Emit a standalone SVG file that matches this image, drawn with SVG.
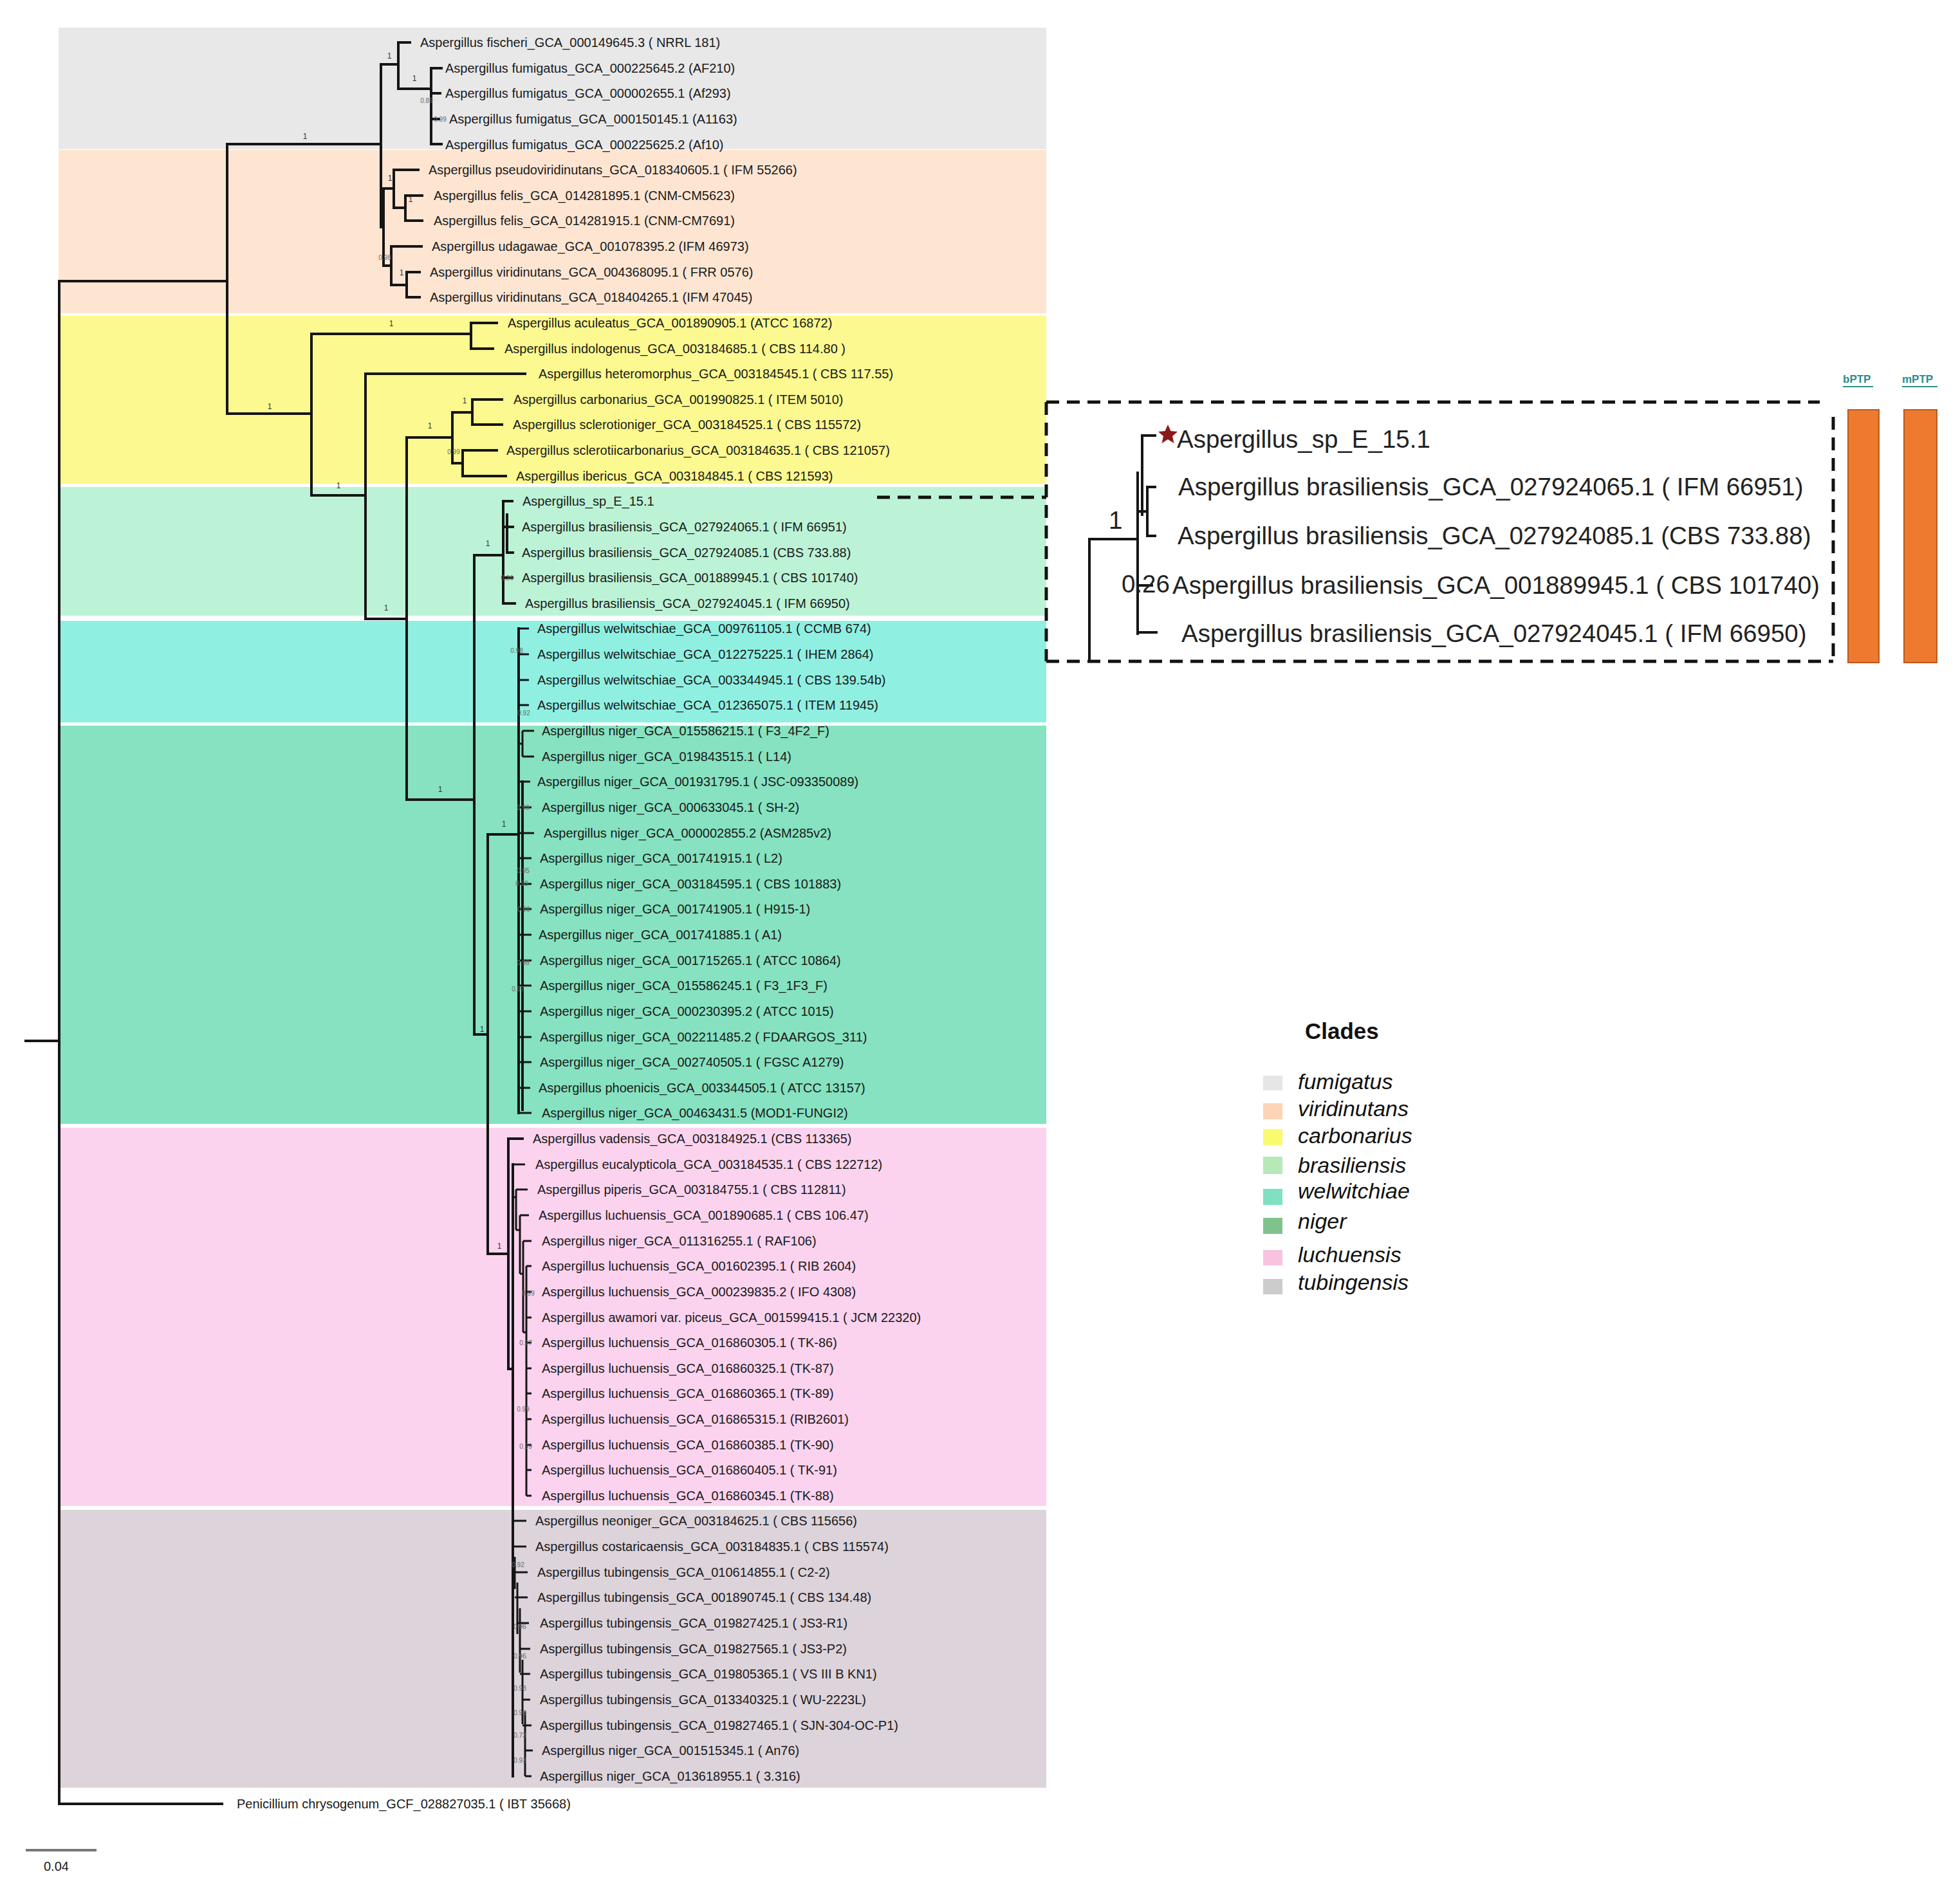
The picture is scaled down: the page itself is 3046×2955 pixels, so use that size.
<svg xmlns="http://www.w3.org/2000/svg" width="3046" height="2955" viewBox="0 0 3046 2955">
<style>
.t{font-family:"Liberation Sans",Arial,sans-serif;font-size:20px;fill:#1a1a1a}
.s{font-family:"Liberation Sans",Arial,sans-serif;font-size:12px;fill:#333;text-anchor:middle}
.ss{font-family:"Liberation Sans",Arial,sans-serif;font-size:10px;fill:#666;text-anchor:middle}
.br{fill:none;stroke:#151515;stroke-width:4;stroke-linecap:square}
.thin{fill:none;stroke:#151515;stroke-width:3}
.dash{fill:none;stroke:#111;stroke-width:5;stroke-dasharray:20 12}
.ins{font-family:"Liberation Sans",Arial,sans-serif;font-size:38.5px;fill:#222}
.lg{font-family:"Liberation Sans",Arial,sans-serif;font-style:italic;font-size:34px;fill:#111}
.bar{fill:#ee7a2f;stroke:#b85a1e;stroke-width:2}
.ptp{font-family:"Liberation Sans",Arial,sans-serif;font-size:17px;font-weight:bold;fill:#2b8c8c}
</style>
<rect width="3046" height="2955" fill="#ffffff"/>
<g id="bands">
<rect x="91" y="43" width="1535" height="189" fill="#e8e8e8"/>
<rect x="91" y="233" width="1535" height="254" fill="#fde5d2"/>
<rect x="91" y="491" width="1535" height="261" fill="#fbf98f"/>
<rect x="91" y="757" width="1535" height="200" fill="#bcf3d6"/>
<rect x="91" y="965" width="1535" height="158" fill="#8ff0e2"/>
<rect x="91" y="1128" width="1535" height="619" fill="#86e2c0"/>
<rect x="91" y="1753" width="1535" height="588" fill="#fcd3ee"/>
<rect x="91" y="2347" width="1535" height="432" fill="#ddd3da"/>
</g>
<g id="connectors">
<path class="br" stroke="#555" d="M40,1618 H90"/>
<path class="br" d="M92,437 V2804 M92,437 H353 M92,2804 H345 M353,224 V643 M353,224 H592 M592,100 V353"/>
<path class="br" d="M592,100 H619 M619,66 V138 M619,66 H637 M619,138 H670 M670,106 V224 M670,106 H686 M670,145 H684 M670,185 H682 M670,224 H686"/>
<path class="br" d="M592,353 H596 M596,293 V413 M596,293 H612 M612,264 V323 M612,264 H650 M612,323 H630 M630,304 V343 M630,304 H656 M630,343 H656 M596,413 H608 M608,383 V443 M608,383 H655 M608,443 H632 M632,423 V462 M632,423 H652 M632,462 H652"/>
<path class="br" d="M353,643 H484 M484,519 V770 M484,519 H732 M732,502 V542 M732,502 H772 M732,542 H766 M484,770 H568 M568,581 V962 M568,581 H816 M568,962 H632 M632,680 V1243 M632,680 H703 M703,641 V720 M703,641 H734 M734,621 V660 M734,621 H780 M734,660 H780 M703,720 H719 M719,700 V740 M719,700 H772 M719,740 H786"/>
<path class="br" d="M632,1243 H737 M737,863 V1608 M737,863 H782 M782,779 V938 M782,779 H796 M782,819 H788 M788,800 V859 M788,819 H797 M788,859 H797 M782,898 H796 M782,938 H800"/>
<path class="br" d="M737,1608 H758 M758,1297 V1949 M758,1297 H806 M806,977 V1730"/>
<path class="thin" d="M806,977 H822 M806,1017 H822 M806,1057 H822 M806,1096 H822 M806,1156 H812 M812,1136 V1176 M812,1136 H830 M812,1176 H830 M806,1215 H824 M806,1255 H826 M806,1295 H830 M806,1334 H826 M806,1374 H826 M806,1413 H826 M806,1453 H826 M806,1493 H826 M806,1532 H826 M806,1572 H826 M806,1612 H826 M806,1651 H826 M806,1691 H824 M806,1730 H826"/>
<path class="br" stroke-width="6" d="M812,1215 V1725"/>
<path class="br" d="M758,1949 H790 M790,1770 V2128 M790,1770 H812 M790,2128 H797 M797,1810 V2761"/>
<path class="thin" d="M797,1810 H816 M797,1861 H802 M802,1849 V1912 M802,1849 H820 M802,1912 H808 M808,1889 V1980 M808,1889 H822 M808,1980 H813 M813,1929 V2071 M813,1929 H826 M813,2071 H818 M818,1968 V2325 M818,1968 H826 M818,2008 H826 M818,2048 H826 M818,2087 H826 M818,2127 H826 M818,2166 H826 M818,2206 H826 M818,2246 H826 M818,2285 H826 M818,2325 H826"/>
<path class="thin" d="M797,2364 H818 M797,2404 H818 M800,2420 V2470 M797,2444 H820 M804,2460 V2540 M800,2483 H820 M808,2500 V2600 M804,2523 H822 M808,2563 H824 M812,2580 V2680 M808,2602 H824 M812,2642 H824 M816,2660 V2761 M812,2682 H826 M816,2721 H828 M816,2761 H826"/>
<path class="dash" d="M1363,773 H1626"/>
</g>
<g id="support">
<text class="s" x="474" y="216">1</text>
<text class="s" x="605" y="91">1</text>
<text class="s" x="644" y="126">1</text>
<text class="ss" x="663" y="160">0.89</text>
<text class="ss" x="684" y="189">0.99</text>
<text class="s" x="606" y="281">1</text>
<text class="s" x="638" y="314">1</text>
<text class="ss" x="598" y="404">0.98</text>
<text class="s" x="624" y="428">1</text>
<text class="s" x="419" y="636">1</text>
<text class="s" x="608" y="507">1</text>
<text class="s" x="526" y="759">1</text>
<text class="s" x="668" y="666">1</text>
<text class="s" x="722" y="627">1</text>
<text class="ss" x="705" y="706">0.99</text>
<text class="s" x="600" y="949">1</text>
<text class="s" x="684" y="1231">1</text>
<text class="s" x="758" y="849">1</text>
<text class="ss" x="788" y="902">0.26</text>
<text class="s" x="783" y="1285">1</text>
<text class="s" x="749" y="1604">1</text>
<text class="s" x="776" y="1941">1</text>
<text class="ss" x="803" y="1015">0.98</text>
<text class="ss" x="814" y="1112">0.92</text>
<text class="ss" x="813" y="1259">0.99</text>
<text class="ss" x="813" y="1357">0.95</text>
<text class="ss" x="811" y="1377">0.99</text>
<text class="ss" x="814" y="1417">0.99</text>
<text class="ss" x="813" y="1500">0.98</text>
<text class="ss" x="805" y="1541">0.97</text>
<text class="ss" x="821" y="2014">0.99</text>
<text class="ss" x="817" y="2091">0.97</text>
<text class="ss" x="813" y="2194">0.99</text>
<text class="ss" x="817" y="2252">0.99</text>
<text class="ss" x="805" y="2436">0.92</text>
<text class="ss" x="808" y="2532">0.96</text>
<text class="ss" x="808" y="2578">0.96</text>
<text class="ss" x="808" y="2628">0.98</text>
<text class="ss" x="808" y="2666">0.93</text>
<text class="ss" x="808" y="2701">0.73</text>
<text class="ss" x="808" y="2740">0.93</text>
</g>
<g id="leaves">
<text id="n0" class="t" x="653" y="73">Aspergillus fischeri_GCA_000149645.3 ( NRRL 181)</text>
<text id="n1" class="t" x="692" y="113">Aspergillus fumigatus_GCA_000225645.2 (AF210)</text>
<text id="n2" class="t" x="692" y="152">Aspergillus fumigatus_GCA_000002655.1 (Af293)</text>
<text id="n3" class="t" x="698" y="192">Aspergillus fumigatus_GCA_000150145.1 (A1163)</text>
<text id="n4" class="t" x="692" y="232">Aspergillus fumigatus_GCA_000225625.2 (Af10)</text>
<text id="n5" class="t" x="666" y="271">Aspergillus pseudoviridinutans_GCA_018340605.1 ( IFM 55266)</text>
<text id="n6" class="t" x="674" y="311">Aspergillus felis_GCA_014281895.1 (CNM-CM5623)</text>
<text id="n7" class="t" x="674" y="350">Aspergillus felis_GCA_014281915.1 (CNM-CM7691)</text>
<text id="n8" class="t" x="671" y="390">Aspergillus udagawae_GCA_001078395.2 (IFM 46973)</text>
<text id="n9" class="t" x="668" y="430">Aspergillus viridinutans_GCA_004368095.1 ( FRR 0576)</text>
<text id="n10" class="t" x="668" y="469">Aspergillus viridinutans_GCA_018404265.1 (IFM 47045)</text>
<text id="n11" class="t" x="789" y="509">Aspergillus aculeatus_GCA_001890905.1 (ATCC 16872)</text>
<text id="n12" class="t" x="784" y="549">Aspergillus indologenus_GCA_003184685.1 ( CBS 114.80 )</text>
<text id="n13" class="t" x="837" y="588">Aspergillus heteromorphus_GCA_003184545.1 ( CBS 117.55)</text>
<text id="n14" class="t" x="798" y="628">Aspergillus carbonarius_GCA_001990825.1 ( ITEM 5010)</text>
<text id="n15" class="t" x="797" y="667">Aspergillus sclerotioniger_GCA_003184525.1 ( CBS 115572)</text>
<text id="n16" class="t" x="787" y="707">Aspergillus sclerotiicarbonarius_GCA_003184635.1 ( CBS 121057)</text>
<text id="n17" class="t" x="802" y="747">Aspergillus ibericus_GCA_003184845.1 ( CBS 121593)</text>
<text id="n18" class="t" x="812" y="786">Aspergillus_sp_E_15.1</text>
<text id="n19" class="t" x="811" y="826">Aspergillus brasiliensis_GCA_027924065.1 ( IFM 66951)</text>
<text id="n20" class="t" x="811" y="866">Aspergillus brasiliensis_GCA_027924085.1 (CBS 733.88)</text>
<text id="n21" class="t" x="811" y="905">Aspergillus brasiliensis_GCA_001889945.1 ( CBS 101740)</text>
<text id="n22" class="t" x="816" y="945">Aspergillus brasiliensis_GCA_027924045.1 ( IFM 66950)</text>
<text id="n23" class="t" x="835" y="984">Aspergillus welwitschiae_GCA_009761105.1 ( CCMB 674)</text>
<text id="n24" class="t" x="835" y="1024">Aspergillus welwitschiae_GCA_012275225.1 ( IHEM 2864)</text>
<text id="n25" class="t" x="835" y="1064">Aspergillus welwitschiae_GCA_003344945.1 ( CBS 139.54b)</text>
<text id="n26" class="t" x="835" y="1103">Aspergillus welwitschiae_GCA_012365075.1 ( ITEM 11945)</text>
<text id="n27" class="t" x="842" y="1143">Aspergillus niger_GCA_015586215.1 ( F3_4F2_F)</text>
<text id="n28" class="t" x="842" y="1183">Aspergillus niger_GCA_019843515.1 ( L14)</text>
<text id="n29" class="t" x="835" y="1222">Aspergillus niger_GCA_001931795.1 ( JSC-093350089)</text>
<text id="n30" class="t" x="842" y="1262">Aspergillus niger_GCA_000633045.1 ( SH-2)</text>
<text id="n31" class="t" x="845" y="1302">Aspergillus niger_GCA_000002855.2 (ASM285v2)</text>
<text id="n32" class="t" x="839" y="1341">Aspergillus niger_GCA_001741915.1 ( L2)</text>
<text id="n33" class="t" x="839" y="1381">Aspergillus niger_GCA_003184595.1 ( CBS 101883)</text>
<text id="n34" class="t" x="839" y="1420">Aspergillus niger_GCA_001741905.1 ( H915-1)</text>
<text id="n35" class="t" x="837" y="1460">Aspergillus niger_GCA_001741885.1 ( A1)</text>
<text id="n36" class="t" x="839" y="1500">Aspergillus niger_GCA_001715265.1 ( ATCC 10864)</text>
<text id="n37" class="t" x="839" y="1539">Aspergillus niger_GCA_015586245.1 ( F3_1F3_F)</text>
<text id="n38" class="t" x="839" y="1579">Aspergillus niger_GCA_000230395.2 ( ATCC 1015)</text>
<text id="n39" class="t" x="839" y="1619">Aspergillus niger_GCA_002211485.2 ( FDAARGOS_311)</text>
<text id="n40" class="t" x="839" y="1658">Aspergillus niger_GCA_002740505.1 ( FGSC A1279)</text>
<text id="n41" class="t" x="837" y="1698">Aspergillus phoenicis_GCA_003344505.1 ( ATCC 13157)</text>
<text id="n42" class="t" x="842" y="1737">Aspergillus niger_GCA_00463431.5 (MOD1-FUNGI2)</text>
<text id="n43" class="t" x="828" y="1777">Aspergillus vadensis_GCA_003184925.1 (CBS 113365)</text>
<text id="n44" class="t" x="832" y="1817">Aspergillus eucalypticola_GCA_003184535.1 ( CBS 122712)</text>
<text id="n45" class="t" x="835" y="1856">Aspergillus piperis_GCA_003184755.1 ( CBS 112811)</text>
<text id="n46" class="t" x="837" y="1896">Aspergillus luchuensis_GCA_001890685.1 ( CBS 106.47)</text>
<text id="n47" class="t" x="842" y="1936">Aspergillus niger_GCA_011316255.1 ( RAF106)</text>
<text id="n48" class="t" x="842" y="1975">Aspergillus luchuensis_GCA_001602395.1 ( RIB 2604)</text>
<text id="n49" class="t" x="842" y="2015">Aspergillus luchuensis_GCA_000239835.2 ( IFO 4308)</text>
<text id="n50" class="t" x="842" y="2055">Aspergillus awamori var. piceus_GCA_001599415.1 ( JCM 22320)</text>
<text id="n51" class="t" x="842" y="2094">Aspergillus luchuensis_GCA_016860305.1 ( TK-86)</text>
<text id="n52" class="t" x="842" y="2134">Aspergillus luchuensis_GCA_016860325.1 (TK-87)</text>
<text id="n53" class="t" x="842" y="2173">Aspergillus luchuensis_GCA_016860365.1 (TK-89)</text>
<text id="n54" class="t" x="842" y="2213">Aspergillus luchuensis_GCA_016865315.1 (RIB2601)</text>
<text id="n55" class="t" x="842" y="2253">Aspergillus luchuensis_GCA_016860385.1 (TK-90)</text>
<text id="n56" class="t" x="842" y="2292">Aspergillus luchuensis_GCA_016860405.1 ( TK-91)</text>
<text id="n57" class="t" x="842" y="2332">Aspergillus luchuensis_GCA_016860345.1 (TK-88)</text>
<text id="n58" class="t" x="832" y="2371">Aspergillus neoniger_GCA_003184625.1 ( CBS 115656)</text>
<text id="n59" class="t" x="832" y="2411">Aspergillus costaricaensis_GCA_003184835.1 ( CBS 115574)</text>
<text id="n60" class="t" x="835" y="2451">Aspergillus tubingensis_GCA_010614855.1 ( C2-2)</text>
<text id="n61" class="t" x="835" y="2490">Aspergillus tubingensis_GCA_001890745.1 ( CBS 134.48)</text>
<text id="n62" class="t" x="839" y="2530">Aspergillus tubingensis_GCA_019827425.1 ( JS3-R1)</text>
<text id="n63" class="t" x="839" y="2570">Aspergillus tubingensis_GCA_019827565.1 ( JS3-P2)</text>
<text id="n64" class="t" x="839" y="2609">Aspergillus tubingensis_GCA_019805365.1 ( VS III B KN1)</text>
<text id="n65" class="t" x="839" y="2649">Aspergillus tubingensis_GCA_013340325.1 ( WU-2223L)</text>
<text id="n66" class="t" x="839" y="2689">Aspergillus tubingensis_GCA_019827465.1 ( SJN-304-OC-P1)</text>
<text id="n67" class="t" x="842" y="2728">Aspergillus niger_GCA_001515345.1 ( An76)</text>
<text id="n68" class="t" x="839" y="2768">Aspergillus niger_GCA_013618955.1 ( 3.316)</text>
<text id="n69" class="t" x="368" y="2811">Penicillium chrysogenum_GCF_028827035.1 ( IBT 35668)</text>
</g>
<g id="scale">
<path d="M40,2876 H150" stroke="#777" stroke-width="4" fill="none"/>
<text class="t" x="68" y="2908" font-size="17">0.04</text>
</g>
<g id="inset">
<path class="dash" d="M1626,625 H2828 M2849,648 V1028 M1626,1028 H2849 M1626,625 V1028"/>
<path class="br" d="M1693,1025 V838 H1768 M1768,735 V985 M1775,677 V800 M1775,677 H1795 M1768,795 H1783 M1783,757 V833 M1783,757 H1795 M1783,833 H1795 M1768,910 H1790 M1768,983 H1797"/>
<polygon points="1815,660 1819.5,670 1830,671 1822,678 1824.5,689 1815,683 1805.5,689 1808,678 1800,671 1810.5,670" fill="#8b1a1a"/>
<text class="ins" x="1829" y="696">Aspergillus_sp_E_15.1</text>
<text class="ins" x="1831" y="770">Aspergillus brasiliensis_GCA_027924065.1 ( IFM 66951)</text>
<text class="ins" x="1830" y="846">Aspergillus brasiliensis_GCA_027924085.1 (CBS 733.88)</text>
<text class="ins" x="1822" y="923">Aspergillus brasiliensis_GCA_001889945.1 ( CBS 101740)</text>
<text class="ins" x="1836" y="998">Aspergillus brasiliensis_GCA_027924045.1 ( IFM 66950)</text>
<text class="ins" x="1723" y="822" font-size="24">1</text>
<text class="ins" x="1743" y="921" font-size="24">0.26</text>
</g>
<g id="ptp">
<text class="ptp" x="2864" y="595">bPTP</text>
<path d="M2864,601 H2911 M2956,601 H3011" stroke="#2b8c8c" stroke-width="2"/>
<text class="ptp" x="2956" y="595">mPTP</text>
<rect class="bar" x="2872" y="637" width="48" height="393"/>
<rect class="bar" x="2959" y="637" width="51" height="393"/>
</g>
<g id="legend">
<text x="2028" y="1615" font-family="Liberation Sans, Arial, sans-serif" font-weight="bold" font-size="35" fill="#111">Clades</text>
<rect x="1963" y="1672" width="30" height="23" fill="#e6e6e6"/>
<rect x="1963" y="1715" width="30" height="25" fill="#fbd5b5"/>
<rect x="1963" y="1755" width="30" height="25" fill="#fafa6e"/>
<rect x="1963" y="1798" width="30" height="27" fill="#b7e8b7"/>
<rect x="1963" y="1848" width="30" height="25" fill="#7fe0c2"/>
<rect x="1963" y="1893" width="30" height="25" fill="#80c28e"/>
<rect x="1963" y="1943" width="30" height="24" fill="#f7c3df"/>
<rect x="1963" y="1988" width="30" height="24" fill="#cccccc"/>
<text class="lg" x="2017" y="1693">fumigatus</text>
<text class="lg" x="2017" y="1735">viridinutans</text>
<text class="lg" x="2017" y="1777">carbonarius</text>
<text class="lg" x="2017" y="1823">brasiliensis</text>
<text class="lg" x="2017" y="1863">welwitchiae</text>
<text class="lg" x="2017" y="1910">niger</text>
<text class="lg" x="2017" y="1962">luchuensis</text>
<text class="lg" x="2017" y="2005">tubingensis</text>
</g>
</svg>
